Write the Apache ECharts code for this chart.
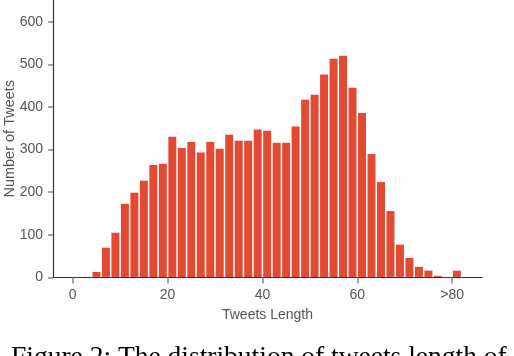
<!DOCTYPE html>
<html>
<head>
<meta charset="utf-8">
<script src="https://cdn.jsdelivr.net/npm/echarts@6/dist/echarts.min.js"></script>
<style>html,body{margin:0;padding:0;background:#fff;}#c{width:514px;height:356px;}</style>
</head>
<body>
<div id="c"></div>
<script>
// Bin centers (tweet length, bins of width 2; 81 represents ">80")
const binCenters = [5,7,9,11,13,15,17,19,21,23,25,27,29,31,33,35,37,39,41,43,45,47,49,51,53,55,57,59,61,63,65,67,69,71,73,75,77,79,81];
// Number of tweets per bin
const counts = [13,70,105,173,199,227,264,267,330,304,318,293,318,302,335,321,321,347,344,316,316,354,417,429,476,513,520,445,386,290,224,156,77,46,25,16,4,0,16];
// Tick labels
const xTickValues = [0,20,40,60,80];
const xTickLabels = ['0','20','40','60','>80'];
const yTickValues = [0,100,200,300,400,500,600];

const data = binCenters.map((c,i)=>[c, counts[i]]);
const chart = echarts.init(document.getElementById('c'), null, {renderer:'canvas'});
const labelColor = '#555';
const font = 'Liberation Sans, Arial, sans-serif';
chart.setOption({
  animation:false,
  grid:{left:53, right:32, top:0, bottom:78.5, containLabel:false, outerBoundsMode:'none'},
  xAxis:{
    type:'value', min:-4.16, max:86.3,
    name:'Tweets Length', nameLocation:'middle', nameGap:31, nameMoveOverlap:false,
    nameTextStyle:{color:labelColor, fontSize:14, fontFamily:font},
    axisLine:{show:true, onZero:false, lineStyle:{color:'#333', width:1.2}},
    axisTick:{show:true, length:6, lineStyle:{color:'#888', width:1.5}, customValues:xTickValues},
    axisLabel:{color:labelColor, fontSize:14, fontFamily:font, margin:11, customValues:xTickValues,
      formatter:(v)=>{const i=xTickValues.indexOf(v); return i>=0?xTickLabels[i]:'';}},
    splitLine:{show:false}
  },
  yAxis:{
    type:'value', min:0, max:651,
    name:'Number of Tweets', nameLocation:'middle', nameGap:36, nameMoveOverlap:false,
    nameTextStyle:{color:labelColor, fontSize:14.5, fontFamily:font},
    axisLine:{show:true, onZero:false, lineStyle:{color:'#333', width:1.2}},
    axisTick:{show:true, length:5, lineStyle:{color:'#888', width:1.5}, customValues:yTickValues},
    axisLabel:{color:labelColor, fontSize:14, fontFamily:font, margin:10, customValues:yTickValues},
    splitLine:{show:false}
  },
  series:[{
    type:'custom',
    data:data,
    encode:{x:0, y:1},
    renderItem:function(params, api){
      const x = api.value(0), y = api.value(1);
      if (!y) return null;
      const p0 = api.coord([x-1, y]);
      const p1 = api.coord([x+1, 0]);
      const gap = 1.5;
      return {type:'rect', shape:{x:p0[0]+gap/2, y:p0[1], width:p1[0]-p0[0]-gap, height:p1[1]-p0[1]-0.6},
        style:{fill:'#E24A33'}};
    }
  }],
  graphic:[{
    type:'text', left:11, top:344,
    style:{text:'Figure 2: The distribution of tweets length of', fontFamily:'Liberation Serif, Times New Roman, serif', fontSize:27.5, fill:'#000'}
  }]
});
</script>
</body>
</html>
